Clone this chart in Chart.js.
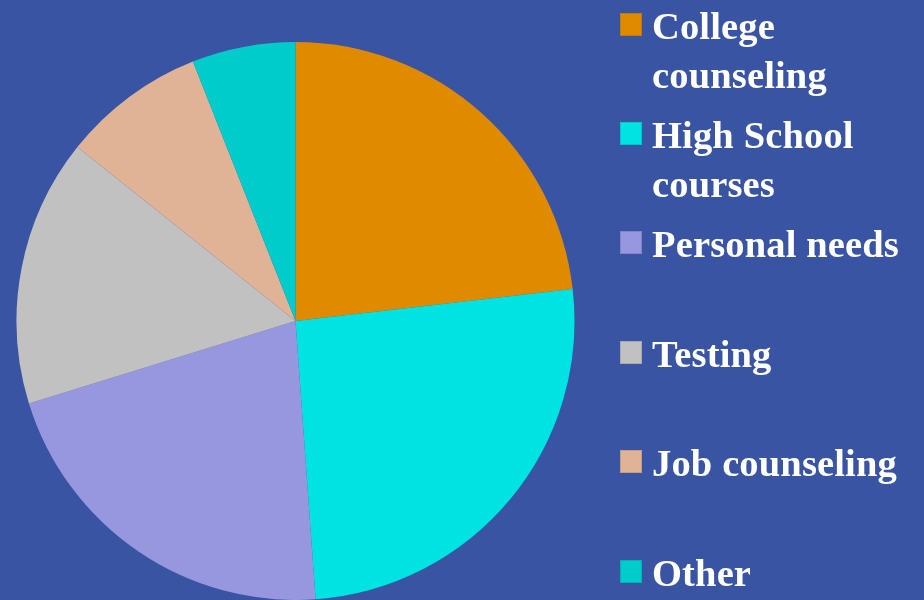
<!DOCTYPE html>
<html>
<head>
<meta charset="utf-8">
<script src="https://cdn.jsdelivr.net/npm/chart.js@4/dist/chart.umd.min.js"></script>
<style>
  html, body { margin: 0; padding: 0; background: #3A54A4; width: 924px; height: 600px; overflow: hidden; }
  #wrap { position: absolute; left: 16px; top: 42px; width: 559px; height: 558px; }
  #legend { position: absolute; left: 0; top: 0; width: 924px; height: 600px; pointer-events: none; }
  .item { position: absolute; left: 620px; width: 300px; }
  .box { position: absolute; left: 0; top: 11px; width: 22px; height: 23px; box-sizing: border-box; border: 1px solid rgba(0,0,0,0.12); }
  .txt { position: absolute; left: 32px; top: 0; width: 268px; font-family: "Liberation Serif", "Times New Roman", serif; font-weight: bold; font-size: 38.5px; line-height: 49px; letter-spacing: 0.15px; color: #fff; white-space: nowrap; }
</style>
</head>
<body>
<div id="wrap"><canvas id="c"></canvas></div>
<div id="legend"></div>
<script>
const categories = ["College counseling", "High School courses", "Personal needs", "Testing", "Job counseling", "Other"];
const legendLines = [["College", "counseling"], ["High School", "courses"], ["Personal needs"], ["Testing"], ["Job counseling"], ["Other"]];
const values = [23.2, 25.7, 21.4, 15.5, 8.3, 6.0];
const colors = ["#E08A00", "#00E3E3", "#9797E0", "#C1C1C1", "#E1B396", "#00CCCC"];

const chart = new Chart(document.getElementById('c'), {
  type: 'pie',
  data: {
    labels: categories,
    datasets: [{ data: values, backgroundColor: colors, borderWidth: 0, hoverOffset: 0 }]
  },
  options: {
    responsive: true,
    maintainAspectRatio: false,
    animation: false,
    layout: { padding: 0 },
    plugins: { legend: { display: false }, tooltip: { enabled: false } }
  }
});

const leg = document.getElementById('legend');
categories.forEach((c, i) => {
  const item = document.createElement('div');
  item.className = 'item';
  item.style.top = (1.5 + 109.4 * i) + 'px';
  const box = document.createElement('div');
  box.className = 'box';
  box.style.background = colors[i];
  const txt = document.createElement('div');
  txt.className = 'txt';
  txt.innerHTML = legendLines[i].join('<br>');
  item.appendChild(box);
  item.appendChild(txt);
  leg.appendChild(item);
});
</script>
</body>
</html>
